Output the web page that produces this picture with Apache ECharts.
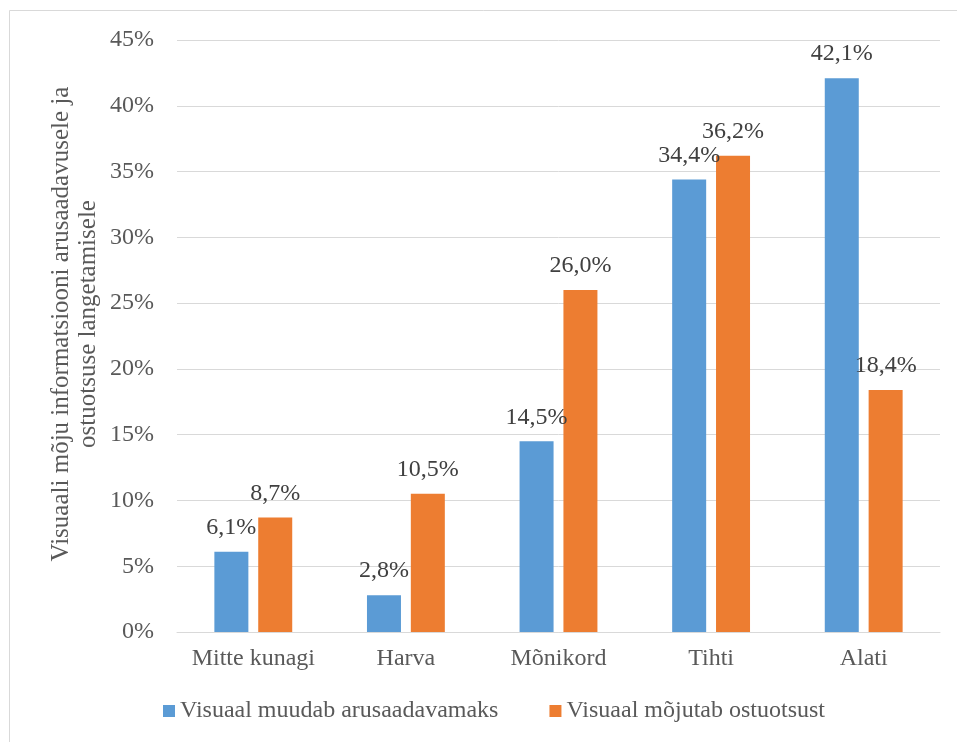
<!DOCTYPE html>
<html>
<head>
<meta charset="utf-8">
<script src="https://cdn.jsdelivr.net/npm/echarts@6/dist/echarts.min.js"></script>
<style>
  html, body { margin: 0; padding: 0; background: #ffffff; }
  #chart { width: 957px; height: 742px; }
</style>
</head>
<body>
<div id="chart"></div>
<script>
// Sagedus, kui tihti visuaal mõjutab arusaadavust ja ostuotsust (%)
const categories = ['Mitte kunagi', 'Harva', 'Mõnikord', 'Tihti', 'Alati'];
const seriesNames = ['Visuaal muudab arusaadavamaks', 'Visuaal mõjutab ostuotsust'];
const understandValues = [6.1, 2.8, 14.5, 34.4, 42.1];
const decisionValues = [8.7, 10.5, 26.0, 36.2, 18.4];
const yTicks = [0, 5, 10, 15, 20, 25, 30, 35, 40, 45];
const yTitleLines = ['Visuaali mõju informatsiooni arusaadavusele ja', 'ostuotsuse langetamisele'];

const FONT = '"Liberation Serif", "Times New Roman", serif';
const fmtPct = v => v.toFixed(1).replace('.', ',') + '%';

const chart = echarts.init(document.getElementById('chart'), null, { renderer: 'canvas' });

const labelStyle = {
  show: true,
  position: 'top',
  distance: 12,
  color: '#404040',
  fontFamily: FONT,
  fontSize: 24,
  formatter: p => fmtPct(p.value)
};

chart.setOption({
  animation: false,
  backgroundColor: '#ffffff',
  textStyle: { fontFamily: FONT },
  grid: { left: 177, right: 17, top: 40, bottom: 110, containLabel: false },
  legend: {
    left: 163,
    top: 699,
    padding: 0,
    itemWidth: 12,
    itemHeight: 12,
    itemGap: 51,
    icon: 'rect',
    textStyle: { color: '#595959', fontFamily: FONT, fontSize: 24 },
    data: seriesNames
  },
  xAxis: {
    type: 'category',
    data: categories,
    axisLine: { lineStyle: { color: '#D9D9D9', width: 1 } },
    axisTick: { show: false },
    axisLabel: { interval: 0, color: '#595959', fontFamily: FONT, fontSize: 24, margin: 15 }
  },
  yAxis: {
    type: 'value',
    min: yTicks[0],
    max: yTicks[yTicks.length - 1],
    interval: yTicks[1] - yTicks[0],
    axisLine: { show: false },
    axisTick: { show: false },
    splitLine: { lineStyle: { color: '#D9D9D9', width: 1 } },
    axisLabel: {
      color: '#595959', fontFamily: FONT, fontSize: 24, margin: 23,
      formatter: v => v + '%'
    }
  },
  series: [
    {
      name: seriesNames[0],
      type: 'bar',
      data: understandValues,
      barWidth: 34,
      barGap: '29%',
      itemStyle: { color: '#5B9BD5' },
      label: labelStyle
    },
    {
      name: seriesNames[1],
      type: 'bar',
      data: decisionValues,
      barWidth: 34,
      barGap: '29%',
      itemStyle: { color: '#ED7D31' },
      label: labelStyle
    }
  ],
  graphic: [
    {
      type: 'rect',
      shape: { x: 9.5, y: 10.5, width: 960, height: 740 },
      style: { fill: null, stroke: '#D9D9D9', lineWidth: 1 },
      silent: true
    },
    {
      type: 'text',
      x: 75,
      y: 324,
      rotation: Math.PI / 2,
      style: {
        text: yTitleLines.join('\n'),
        fill: '#595959',
        font: '25px ' + FONT,
        lineHeight: 27,
        align: 'center',
        verticalAlign: 'middle'
      },
      silent: true
    }
  ]
});
</script>
</body>
</html>
